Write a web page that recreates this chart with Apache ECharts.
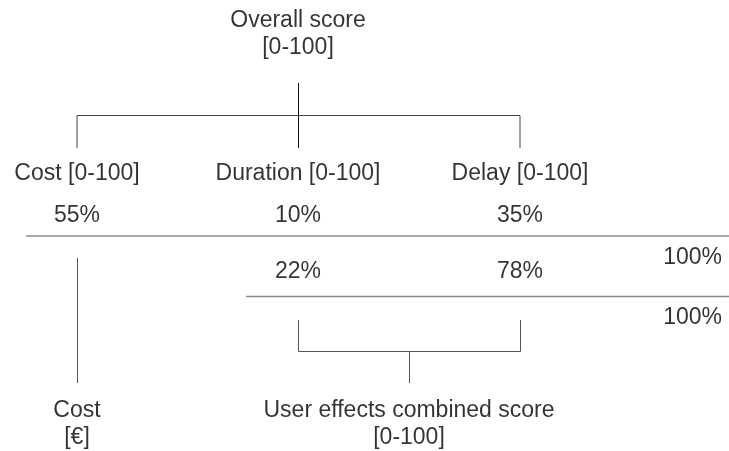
<!DOCTYPE html>
<html>
<head>
<meta charset="utf-8">
<script src="https://cdn.jsdelivr.net/npm/echarts@6/dist/echarts.min.js"></script>
<style>
html,body{margin:0;padding:0;background:#fff;}
#chart{width:729px;height:451px;}
</style>
</head>
<body>
<div id="chart"></div>
<script>
// ---- content ----
const topLabel = 'Overall score\n[0-100]';
const criteria = ['Cost [0-100]', 'Duration [0-100]', 'Delay [0-100]'];
const weights = ['55%', '10%', '35%'];
const subWeights = ['22%', '78%'];
const totals = ['100%', '100%'];
const bottomLabels = ['Cost\n[€]', 'User effects combined score\n[0-100]'];

// ---- layout (diagram coordinates) ----
const colX = [77, 298, 520];
const rowY = { top: 34, crit: 174, weight: 216, total1: 258, sub: 272, total2: 318, bottom: 424 };
const totalX = 722;
const combX = 409;

const chart = echarts.init(document.getElementById('chart'), null, { renderer: 'canvas' });

const font = { fontFamily: 'Liberation Sans, Arial, sans-serif', fontSize: 23, color: '#000', lineHeight: 27 };

const texts = [];
texts.push({ value: [colX[1], rowY.top], name: topLabel });
criteria.forEach((c, i) => texts.push({ value: [colX[i], rowY.crit], name: c }));
weights.forEach((w, i) => texts.push({ value: [colX[i], rowY.weight], name: w }));
subWeights.forEach((w, i) => texts.push({ value: [colX[i + 1], rowY.sub], name: w }));
texts.push({ value: [totalX, rowY.total1], name: totals[0], label: { align: 'right' } });
texts.push({ value: [totalX, rowY.total2], name: totals[1], label: { align: 'right' } });
texts.push({ value: [colX[0], rowY.bottom], name: bottomLabels[0] });
texts.push({ value: [combX, rowY.bottom], name: bottomLabels[1] });

const darkLines = [
  { coords: [[colX[0], 148], [colX[0], 115.5], [colX[2], 115.5], [colX[2], 148]] }
];
const blackLines = [
  { coords: [[colX[1] + 0.5, 83], [colX[1] + 0.5, 148]] }
];
const grayLines = [
  { coords: [[26, 236], [729, 236]] },
  { coords: [[246, 296.5], [729, 296.5]] }
];
const midLines = [
  { coords: [[colX[0] + 0.5, 258], [colX[0] + 0.5, 383]] },
  { coords: [[colX[1] + 0.5, 320], [colX[1] + 0.5, 351.5], [colX[2] + 0.5, 351.5], [colX[2] + 0.5, 320]] },
  { coords: [[combX + 0.5, 351.5], [combX + 0.5, 383]] }
];

function linesSeries(data, color, width) {
  return {
    type: 'lines', coordinateSystem: 'cartesian2d', polyline: true, silent: true,
    lineStyle: { color: color, width: width, opacity: 1 }, data: data, z: 1
  };
}

chart.setOption({
  animation: false,
  backgroundColor: '#fff',
  grid: { left: 0, right: 0, top: 0, bottom: 0 },
  xAxis: { type: 'value', min: 0, max: 729, show: false },
  yAxis: { type: 'value', min: 0, max: 451, inverse: true, show: false },
  series: [
    linesSeries(darkLines, '#444', 1),
    linesSeries(blackLines, '#111', 1),
    linesSeries(grayLines, '#8c8c8c', 1.5),
    linesSeries(midLines, '#555', 1),
    {
      type: 'scatter', symbolSize: 0, silent: true, z: 5,
      data: texts,
      label: Object.assign({ show: true, position: 'inside', formatter: '{b}', align: 'center', verticalAlign: 'middle' }, font)
    }
  ]
});
</script>
</body>
</html>
